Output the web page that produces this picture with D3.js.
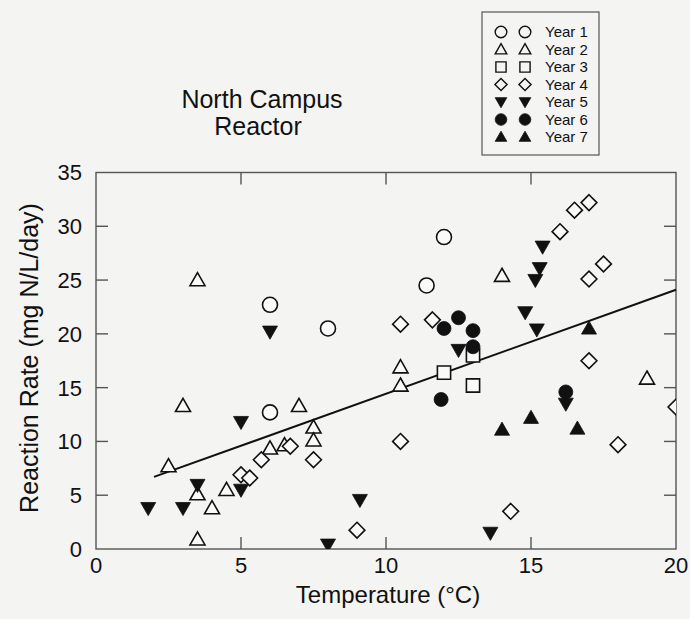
<!DOCTYPE html>
<html>
<head>
<meta charset="utf-8">
<script src="https://cdn.jsdelivr.net/npm/d3@7"></script>
<style>
  body { margin: 0; background: #f4f4f2; }
  svg { display: block; font-family: "Liberation Sans", Arial, sans-serif; }
</style>
</head>
<body>
<svg id="chart" width="690" height="619"></svg>
<script>
// Data: [temperature °C, reaction rate mg N/L/day]
const year1 = [[6.0, 22.7], [8.0, 20.5], [12.0, 29.0], [11.4, 24.5], [6.0, 12.7]];
const year2 = [[3.5, 25.0], [14.0, 25.4], [10.5, 16.9], [10.5, 15.2], [19.0, 15.85], [3.0, 13.3],
               [7.0, 13.3], [7.5, 11.3], [7.5, 10.1], [6.0, 9.35], [6.5, 9.65], [2.5, 7.7],
               [4.5, 5.5], [3.5, 5.1], [4.0, 3.8], [3.5, 0.9]];
const year3 = [[12.0, 16.4], [13.0, 15.2], [13.0, 18.0]];
const year4 = [[17.0, 32.2], [16.5, 31.5], [16.0, 29.5], [17.5, 26.5], [17.0, 25.1], [10.5, 20.9],
               [11.6, 21.3], [17.0, 17.5], [20.0, 13.2], [10.5, 10.0], [18.0, 9.7], [14.3, 3.5],
               [7.5, 8.3], [5.7, 8.3], [6.7, 9.55], [5.0, 6.9], [5.3, 6.6], [9.0, 1.75]];
const year5 = [[6.0, 20.2], [15.4, 28.1], [15.3, 26.1], [15.15, 25.0], [14.8, 22.0], [15.2, 20.4],
               [12.5, 18.5], [16.2, 13.5], [5.0, 11.8], [5.0, 5.5], [3.5, 5.95], [1.8, 3.8],
               [3.0, 3.8], [8.0, 0.4], [9.1, 4.55], [13.6, 1.5]];
const year6 = [[12.5, 21.5], [12.0, 20.5], [13.0, 20.3], [13.0, 18.8], [11.9, 13.9], [16.2, 14.6]];
const year7 = [[17.0, 20.5], [15.0, 12.2], [14.0, 11.1], [16.6, 11.2]];

// regression line end points
const fitX = [2, 20];
const fitY = [6.7, 24.1];

const xTicks = [0, 5, 10, 15, 20];
const yTicks = [0, 5, 10, 15, 20, 25, 30, 35];
const legendLabels = ["Year 1", "Year 2", "Year 3", "Year 4", "Year 5", "Year 6", "Year 7"];

// symbol per year: shape + filled?
const series = [
  { data: year1, shape: "circle", filled: false },
  { data: year2, shape: "triangle", filled: false },
  { data: year3, shape: "square", filled: false },
  { data: year4, shape: "diamond", filled: false },
  { data: year5, shape: "down", filled: true },
  { data: year6, shape: "circle", filled: true },
  { data: year7, shape: "triangle", filled: true }
];

const svg = d3.select("#chart");
const ink = "#111";
const frameCol = "#555";

const x = d3.scaleLinear().domain([0, 20]).range([96, 676]);
const y = d3.scaleLinear().domain([0, 35]).range([549, 172.5]);

// marker outline, s = half width
function shapePath(shape, s) {
  const p = d3.path();
  if (shape === "circle") {
    p.arc(0, 0, s, 0, 2 * Math.PI);
  } else if (shape === "triangle") {
    p.moveTo(0, -s * 1.0); p.lineTo(s, s * 0.75); p.lineTo(-s, s * 0.75); p.closePath();
  } else if (shape === "down") {
    p.moveTo(-s, -s * 0.75); p.lineTo(s, -s * 0.75); p.lineTo(0, s * 1.0); p.closePath();
  } else if (shape === "square") {
    p.rect(-s * 0.88, -s * 0.88, s * 1.76, s * 1.76);
  } else if (shape === "diamond") {
    p.moveTo(0, -s * 1.05); p.lineTo(s * 1.05, 0); p.lineTo(0, s * 1.05); p.lineTo(-s * 1.05, 0); p.closePath();
  }
  return p.toString();
}

svg.append("defs").append("clipPath").attr("id", "plotClip")
  .append("rect")
  .attr("x", x(0)).attr("y", y(35))
  .attr("width", x(20) - x(0)).attr("height", y(0) - y(35));

// frame
svg.append("rect")
  .attr("x", x(0)).attr("y", y(35))
  .attr("width", x(20) - x(0)).attr("height", y(0) - y(35))
  .attr("fill", "none")
  .attr("stroke", frameCol)
  .attr("stroke-width", 1.4);

// inward ticks on all four sides
const tickLen = 12;
const tk = svg.append("g").attr("stroke", frameCol).attr("stroke-width", 1.4);
yTicks.slice(1, -1).forEach(v => {
  tk.append("line").attr("x1", x(0)).attr("x2", x(0) + tickLen).attr("y1", y(v)).attr("y2", y(v));
  tk.append("line").attr("x1", x(20)).attr("x2", x(20) - tickLen).attr("y1", y(v)).attr("y2", y(v));
});
xTicks.slice(1, -1).forEach(v => {
  tk.append("line").attr("x1", x(v)).attr("x2", x(v)).attr("y1", y(0)).attr("y2", y(0) - tickLen);
  tk.append("line").attr("x1", x(v)).attr("x2", x(v)).attr("y1", y(35)).attr("y2", y(35) + tickLen);
});

// tick labels
svg.append("g").selectAll("text")
  .data(yTicks).enter().append("text")
  .attr("x", 82)
  .attr("y", d => y(d))
  .attr("dy", "0.36em")
  .attr("text-anchor", "end")
  .style("font-size", "22px")
  .attr("fill", ink)
  .text(d => d);

svg.append("g").selectAll("text")
  .data(xTicks).enter().append("text")
  .attr("x", d => x(d))
  .attr("y", 573)
  .attr("text-anchor", "middle")
  .style("font-size", "22px")
  .attr("fill", ink)
  .text(d => d);

// axis titles
svg.append("text")
  .attr("x", 388).attr("y", 603)
  .attr("text-anchor", "middle")
  .style("font-size", "24px")
  .attr("fill", ink)
  .text("Temperature (°C)");

svg.append("text")
  .attr("transform", "translate(38,358) rotate(-90)")
  .attr("text-anchor", "middle")
  .style("font-size", "25px")
  .attr("fill", ink)
  .text("Reaction Rate (mg N/L/day)");

// chart title
svg.append("text")
  .attr("x", 262).attr("y", 108)
  .attr("text-anchor", "middle")
  .style("font-size", "25px")
  .attr("fill", ink)
  .text("North Campus");
svg.append("text")
  .attr("x", 258).attr("y", 135)
  .attr("text-anchor", "middle")
  .style("font-size", "25px")
  .attr("fill", ink)
  .text("Reactor");

// regression line
svg.append("line")
  .attr("x1", x(fitX[0])).attr("y1", y(fitY[0]))
  .attr("x2", x(fitX[1])).attr("y2", y(fitY[1]))
  .attr("stroke", ink)
  .attr("stroke-width", 2);

// markers
const plot = svg.append("g").attr("clip-path", "url(#plotClip)");
series.forEach(s => {
  const size = s.shape === "circle" ? (s.filled ? 7 : 7.5) : 7.5;
  plot.append("g").selectAll("path")
    .data(s.data).enter().append("path")
    .attr("d", shapePath(s.shape, size))
    .attr("transform", d => `translate(${x(d[0])},${y(d[1])})`)
    .attr("fill", s.filled ? ink : "#fafafa")
    .attr("stroke", ink)
    .attr("stroke-width", s.filled ? 0.8 : 1.6)
    .attr("stroke-linejoin", "miter");
});

// legend
const legend = svg.append("g");
legend.append("rect")
  .attr("x", 482).attr("y", 12)
  .attr("width", 117).attr("height", 143)
  .attr("fill", "none")
  .attr("stroke", frameCol)
  .attr("stroke-width", 1.2);

legendLabels.forEach((lab, i) => {
  const s = series[i];
  const ly = 32 + i * 17.5;
  [501, 525].forEach(lx => {
    legend.append("path")
      .attr("d", shapePath(s.shape, 5.8))
      .attr("transform", `translate(${lx},${ly})`)
      .attr("fill", s.filled ? ink : "none")
      .attr("stroke", ink)
      .attr("stroke-width", s.filled ? 0.8 : 1.4);
  });
  legend.append("text")
    .attr("x", 545).attr("y", ly)
    .attr("dy", "0.36em")
    .style("font-size", "15px")
    .attr("fill", ink)
    .text(lab);
});
</script>
</body>
</html>
